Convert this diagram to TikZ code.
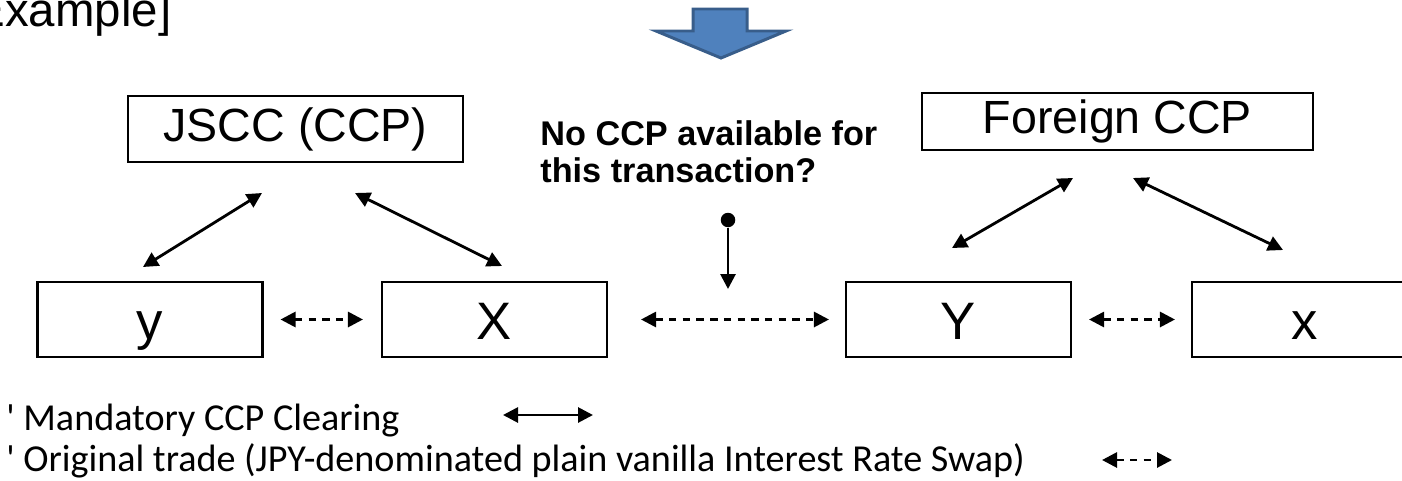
\documentclass[tikz,border=0pt]{standalone}
\usepackage{fontspec}
\usepackage{tikz}
\usetikzlibrary{arrows.meta}
\setmainfont{Liberation Sans}
\newfontfamily\legendfont{Carlito}
\definecolor{ArrowFill}{RGB}{79,129,189}
\definecolor{ArrowEdge}{RGB}{56,93,138}
\tikzset{
  party/.style={draw, line width=1.2pt, inner sep=0pt, minimum width=4.5cm, minimum height=1.5cm,
    text height=0.8cm, text depth=0cm, font=\fontsize{30}{34}\selectfont},
  ccp/.style={draw, line width=1.2pt, inner sep=0pt, font=\fontsize{26.5}{30}\selectfont},
  clearing/.style={{Triangle[length=0.3cm,width=0.3cm]}-{Triangle[length=0.3cm,width=0.3cm]}, line width=1.6pt},
  trade/.style={clearing, dash pattern=on 4.2pt off 3.6pt}
}

\begin{document}
\begin{tikzpicture}[x=0.02cm, y=-0.02cm]
        \useasboundingbox (0,0) rectangle (1402,480);
        \node[anchor=base west, inner sep=0pt, font=\fontsize{27}{30}\selectfont] (ex) at (-40,27) {[Example]};

        % down arrow
        \filldraw[fill=ArrowFill, draw=ArrowEdge, line width=1.7pt]
          (693,9) -- (747,9) -- (747,31) -- (786,31) -- (721,58) -- (656,31) -- (693,31) -- cycle;

        \node[ccp, minimum width=6.7cm, minimum height=1.32cm] (jscc) at (295.5,129) {JSCC (CCP)};
        \node[ccp, minimum width=7.82cm, minimum height=1.14cm] (fccp) at (1117.5,121.5) {Foreign CCP};

        \node[party] (y) at (150,319.5) {y};
        \node[party] (X) at (494.5,319.5) {X};
        \node[party] (Y) at (958.5,319.5) {Y};
        \node[party] (x) at (1304.5,319.5) {x};

        \node[anchor=north west, align=left, inner sep=0pt, font=\bfseries\fontsize{19.5}{21.5}\selectfont] (q) at (540,120)
          {No CCP available for\\this transaction?};
        \node[circle, fill, inner sep=0pt, minimum size=0.29cm] (dot) at (728,220) {};
        \coordinate (dtip) at (728,289);
        \draw[-{Triangle[length=0.3cm,width=0.3cm]}, line width=1.6pt] (dot) -- (dtip);

        \coordinate (j1) at (143,267);  \coordinate (j2) at (262,193);
        \coordinate (j3) at (355,193);  \coordinate (j4) at (502,266);
        \coordinate (f1) at (952,248);  \coordinate (f2) at (1073,178);
        \coordinate (f3) at (1133,178); \coordinate (f4) at (1283,250);
        \draw[clearing] (j1) -- (j2);
        \draw[clearing] (j3) -- (j4);
        \draw[clearing] (f1) -- (f2);
        \draw[clearing] (f3) -- (f4);

        \draw[trade, shorten <=0.34cm, shorten >=0.36cm] (y.east) -- (X.west);
        \draw[trade, shorten <=0.66cm, shorten >=0.32cm] (X.east) -- (Y.west);
        \draw[trade, shorten <=0.34cm, shorten >=0.32cm] (Y.east) -- (x.west);

        % legend
        \node[anchor=base west, inner sep=0pt, font=\legendfont\fontsize{21.7}{24}\selectfont] (l1) at (6,430)
          {\textquotesingle\ Mandatory CCP Clearing};
        \node[anchor=base west, inner sep=0pt, font=\legendfont\fontsize{21.7}{24}\selectfont] (l2) at (6,471)
          {\textquotesingle\ Original trade (JPY-denominated plain vanilla Interest Rate Swap)};
        \coordinate (s1) at (503,415); \coordinate (s2) at (593,415);
        \coordinate (d1) at (1102,460); \coordinate (d2) at (1172,460);
        \draw[clearing] (s1) -- (s2);
        \draw[trade] (d1) -- (d2);
\end{tikzpicture}
\end{document}
